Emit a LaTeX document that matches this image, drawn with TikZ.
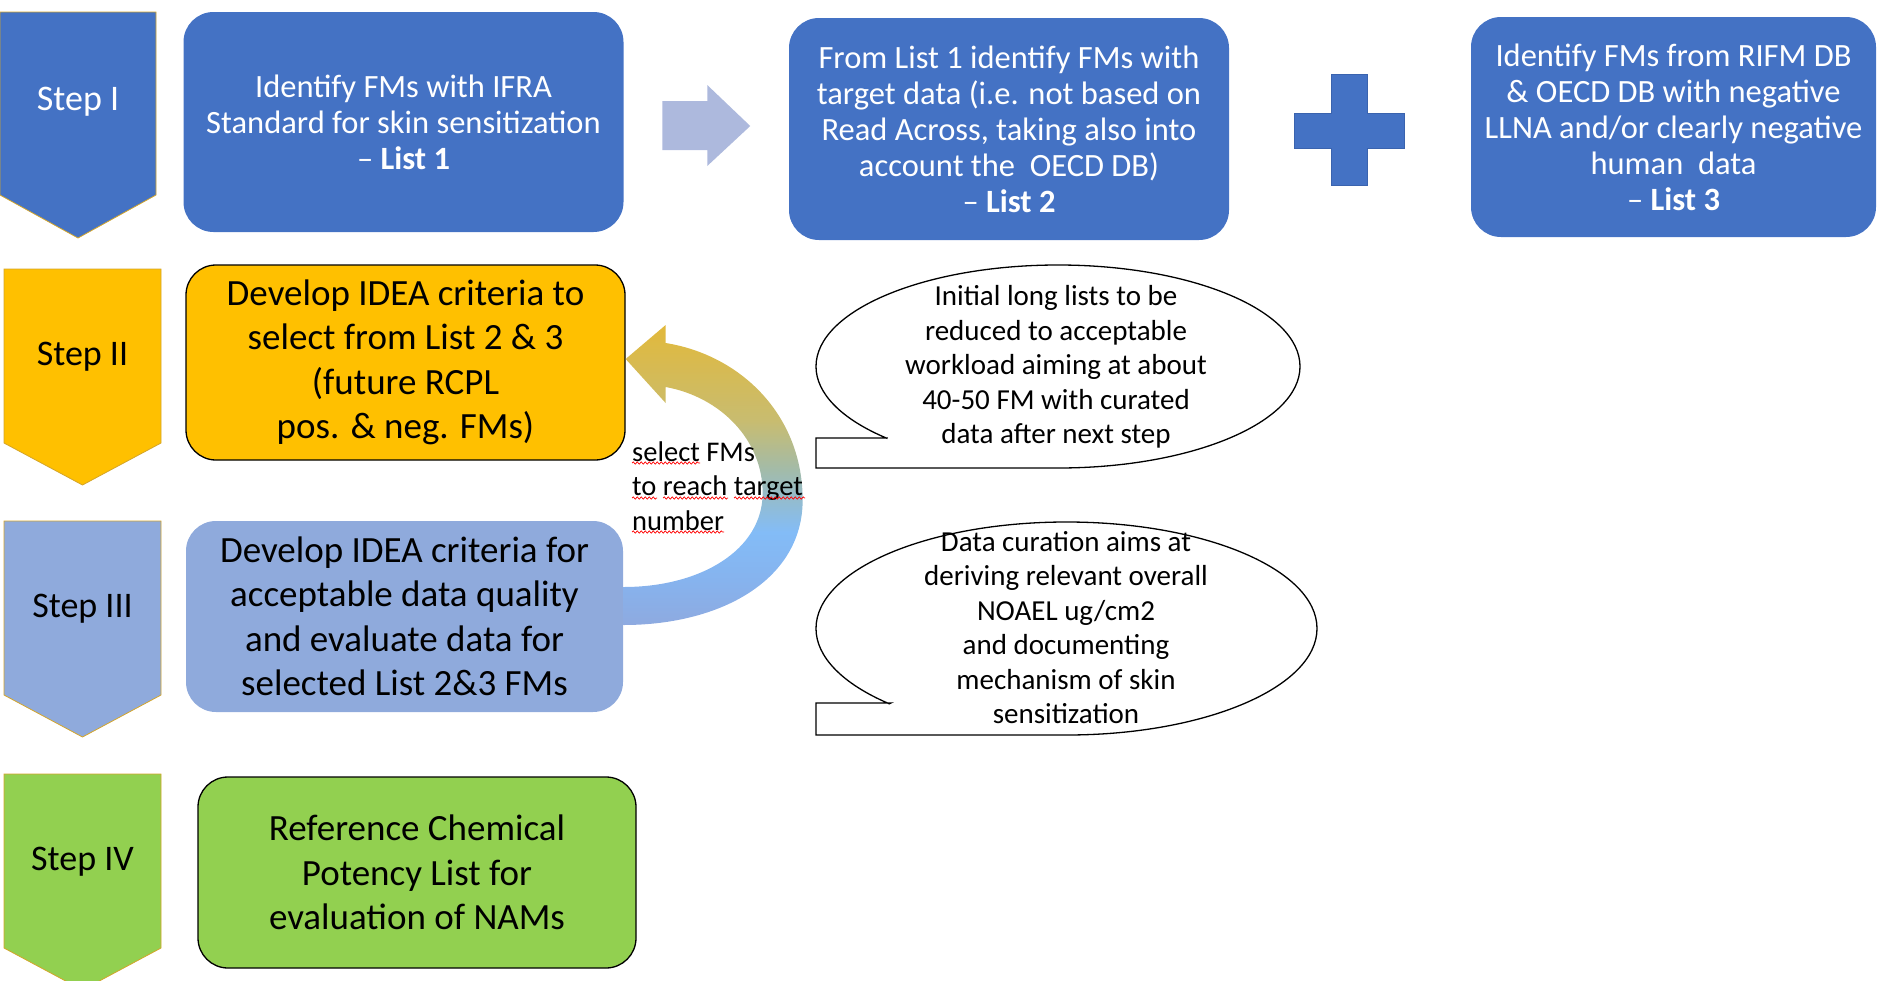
\documentclass[tikz,border=0pt]{standalone}
\usepackage{fontspec}
\setmainfont{Carlito}
\usetikzlibrary{calc,decorations.pathmorphing}

\definecolor{boxblue}{HTML}{4472C4}
\definecolor{stepgold}{HTML}{FFC000}
\definecolor{steplav}{HTML}{8FAADC}
\definecolor{stepgreen}{HTML}{92D050}
\definecolor{rimgold}{HTML}{D4A52A}
\definecolor{paleblue}{HTML}{ADB9DD}
\definecolor{plusrim}{HTML}{3A63AE}
\definecolor{loopgold}{HTML}{E2B93B}
\definecolor{loopkhaki}{HTML}{C8BC70}
\definecolor{loopteal}{HTML}{A3BBA8}
\definecolor{loopsky}{HTML}{83BCF7}
\definecolor{loopmist}{HTML}{86B3EE}
\definecolor{loopend}{HTML}{8EAAE0}

% gold at the arrow head, sky blue low down, lavender at the start
\pgfdeclareverticalshading{loopfade}{100bp}{color(0bp)=(loopend); color(25bp)=(loopend); color(32.5bp)=(loopmist);
  color(40.5bp)=(loopsky); color(51bp)=(loopteal); color(59bp)=(loopkhaki); color(75bp)=(loopgold); color(100bp)=(loopgold)}

\begin{document}
\begin{tikzpicture}[x=1pt,y=-1pt,
  listbox/.style={rounded corners=30pt, inner sep=0pt, align=center, text=white, fill=boxblue,
    font=\fontsize{32.5}{36}\selectfont},
  stagebox/.style={rounded corners=30pt, inner sep=0pt, align=center, font=\fontsize{37}{44.5}\selectfont},
  steplabel/.style={font=\fontsize{36}{40}\selectfont},
  bubble/.style={draw=black, fill=white, line width=1.3pt},
  bubbletext/.style={align=center, font=\fontsize{29}{34.5}\selectfont},
  squiggle/.style={draw=red, line width=0.7pt, decorate, decoration={snake, amplitude=1.1pt, segment length=4pt}}]

  \useasboundingbox (0,0) rectangle (1879,980);

  % step chevrons
  \filldraw[fill=boxblue, draw=rimgold, line width=0.8pt] (0,12) -- (156,12) -- (156,195) -- (78,238) -- (0,195) -- cycle;
  \node[steplabel, text=white] (stepi) at (78,102) {Step I};
  \foreach \yy/\cc/\nm/\tx in {269/stepgold/stepii/Step II, 521/steplav/stepiii/Step III, 774/stepgreen/stepiv/Step IV}
  {
    \filldraw[fill=\cc, draw=rimgold, line width=0.8pt] (4,\yy) -- (161,\yy) -- (161,\yy+174) -- (82.5,\yy+216) -- (4,\yy+174) -- cycle;
    \node[steplabel] (\nm) at (82.5,\yy+88) {\tx};
  }

  % lists
  \node[listbox, minimum width=440pt, minimum height=220pt] (listi) at (403.5,122)
    {Identify FMs with IFRA\\Standard for skin sensitization\\– \textbf{List 1}};
  \node[listbox, minimum width=440pt, minimum height=222pt] (listii) at (1009,129)
    {From List 1 identify FMs with\\target data (i.e. not based on\\Read Across, taking also into\\account the \ OECD DB)\\– \textbf{List 2}};
  \node[listbox, minimum width=405pt, minimum height=220pt] (listiii) at (1673.5,127)
    {Identify FMs from RIFM DB\\\& OECD DB with negative\\LLNA and/or clearly negative\\human \ data\\– \textbf{List 3}};

  % stages
  \node[stagebox, fill=stepgold, draw=black, line width=1.3pt, minimum width=439pt, minimum height=195pt] (select) at (405.5,362.5)
    {Develop IDEA criteria to\\select from List 2 \& 3\\(future RCPL\\pos. \& neg. FMs)};
  \node[stagebox, fill=steplav, minimum width=437pt, minimum height=191pt] (curate) at (404.5,616.5)
    {Develop IDEA criteria for\\acceptable data quality\\and evaluate data for\\selected List 2\&3 FMs};
  \node[stagebox, fill=stepgreen, draw=black, line width=1.3pt, minimum width=438pt, minimum height=191pt] (rcpl) at (417,872.5)
    {Reference Chemical\\Potency List for\\evaluation of NAMs};

  % arrow and plus between the lists
  \coordinate (gapi) at ($(listi.east)!0.5!(listii.west)$);
  \coordinate (gapii) at ($(listii.east)!0.5!(listiii.west)$);
  \fill[paleblue, shift={(gapi)}] (-44,-24.5) -- (1,-24.5) -- (1,-40.5) -- (44,0.5) -- (1,40.5) -- (1,24.5) -- (-44,24.5) -- cycle;
  \filldraw[fill=boxblue, draw=plusrim, line width=0.8pt, shift={(gapii)}] (-19,-54) -- (17,-54) -- (17,-15) -- (54,-15) -- (54,20) -- (17,20)
    -- (17,57) -- (-19,57) -- (-19,20) -- (-56,20) -- (-56,-15) -- (-19,-15) -- cycle;

  % loop back from stage III to stage II
  \begin{scope}[shift={(select.east)}]
    \shade[shading=loopfade]
      (40,-37.5) -- (40,-19.5) .. controls (115,-7.5) and (177,52.5) .. (177,137.5)
      .. controls (177,217.5) and (95,262.5) .. (-2,262.5) -- (-2,224.5)
      .. controls (75,224.5) and (137,187.5) .. (137,130.5)
      .. controls (137,77.5) and (95,34.5) .. (40,24.5) -- (40,40.5) -- (0,-3.5) -- cycle;
  \end{scope}
  \node[anchor=west, align=left, inner sep=0pt, font=\fontsize{28.5}{34.5}\selectfont] (pick) at (632,486)
    {select FMs\\to reach target\\number};
  \draw[squiggle] (632,463) -- (700,463);
  \draw[squiggle] (632,498) -- (657,498);
  \draw[squiggle] (663,498) -- (728,498);
  \draw[squiggle] (734,498) -- (805,498);
  \draw[squiggle] (632,532) -- (724,532);

  % callouts
  \filldraw[bubble] (887,438) -- (816,438) -- (816,468) -- (1058,468)
    arc[start angle=90, end angle=-225, x radius=242, y radius=101.5] -- cycle;
  \node[bubbletext] (aim) at (1056,367)
    {Initial long lists to be\\reduced to acceptable\\workload aiming at about\\40-50 FM with curated\\data after next step};
  \filldraw[bubble] (891,703) -- (816,703) -- (816,735) -- (1066.5,735)
    arc[start angle=90, end angle=-225, x radius=250.5, y radius=106.5] -- cycle;
  \node[bubbletext] (curation) at (1066,627.5)
    {Data curation aims at\\deriving relevant overall\\NOAEL ug/cm2\\and documenting\\mechanism of skin\\sensitization};

\end{tikzpicture}
\end{document}
